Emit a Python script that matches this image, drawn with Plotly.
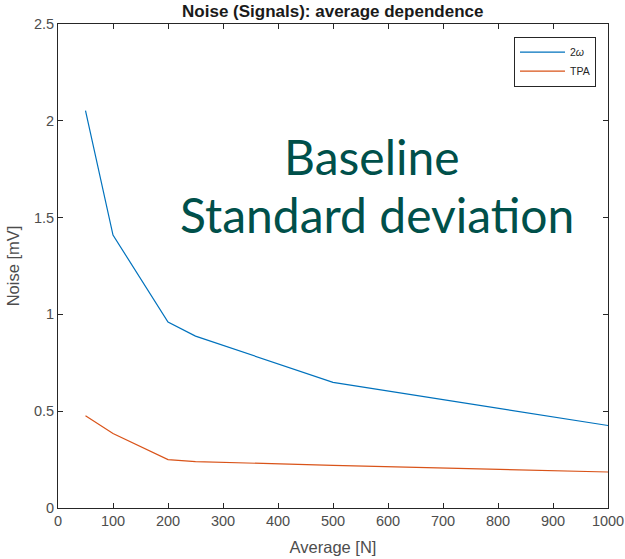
import plotly.graph_objects as go

averages = [50, 100, 200, 250, 500, 1000]
noise_2w = [2.052, 1.41, 0.96, 0.888, 0.649, 0.426]
noise_tpa = [0.476, 0.385, 0.25, 0.24, 0.22, 0.186]
x_ticks = list(range(0, 1001, 100))
y_ticks = [0, 0.5, 1, 1.5, 2, 2.5]
y_ticklabels = ["0", "0.5", "1", "1.5", "2", "2.5"]

fig = go.Figure()
fig.add_trace(go.Scatter(x=averages, y=noise_2w, mode="lines", name="2<i>ω</i>",
                         line=dict(color="#0072BD", width=1.2)))
fig.add_trace(go.Scatter(x=averages, y=noise_tpa, mode="lines", name="TPA",
                         line=dict(color="#D95319", width=1.2)))

axis_common = dict(showgrid=False, zeroline=False, showline=True, mirror="ticks",
                   linecolor="#262626", linewidth=1, ticks="inside", ticklen=5,
                   tickcolor="#262626", automargin=False,
                   tickfont=dict(family="Liberation Sans", size=14.5, color="#4d4d4d"))

L, R, T, B = 57.5, 608, 24.3, 507.7
fig.update_layout(
    width=625, height=559,
    margin=dict(l=L, r=625 - R, t=T, b=559 - B),
    plot_bgcolor="white", paper_bgcolor="white",
    title=dict(text="<b>Noise (Signals): average dependence</b>", x=(L + R) / 2 / 625, xanchor="center",
               y=1 - 11 / 559, yanchor="middle", font=dict(family="Liberation Sans", size=17, color="#1a1a1a")),
    xaxis=dict(range=[0, 1000], tickvals=x_ticks, title=dict(text="Average [N]", standoff=13,
               font=dict(family="Liberation Sans", size=16.5, color="#4d4d4d")), **axis_common),
    yaxis=dict(range=[0, 2.5], tickvals=y_ticks, ticktext=y_ticklabels, title=dict(text="Noise [mV]", standoff=10,
               font=dict(family="Liberation Sans", size=16.5, color="#4d4d4d")), **axis_common),
    legend=dict(x=(596 - L) / (R - L), y=(B - 37) / (B - T), xanchor="right", yanchor="top", bgcolor="white",
                bordercolor="#262626", borderwidth=1, font=dict(family="Liberation Sans", size=10.5, color="#262626"),
                tracegroupgap=0, itemwidth=45),
    showlegend=True,
    font=dict(family="Liberation Sans"),
)

fig.add_annotation(text="Baseline", xref="paper", yref="paper", x=(372 - L) / (R - L), y=(B - 157) / (B - T),
                   showarrow=False, xanchor="center", yanchor="middle",
                   font=dict(family="Lato", size=48, color="#00504A"))
fig.add_annotation(text="Standard deviation", xref="paper", yref="paper", x=(377 - L) / (R - L), y=(B - 215) / (B - T),
                   showarrow=False, xanchor="center", yanchor="middle",
                   font=dict(family="Lato", size=48, color="#00504A"))

fig.write_html("out.html")
